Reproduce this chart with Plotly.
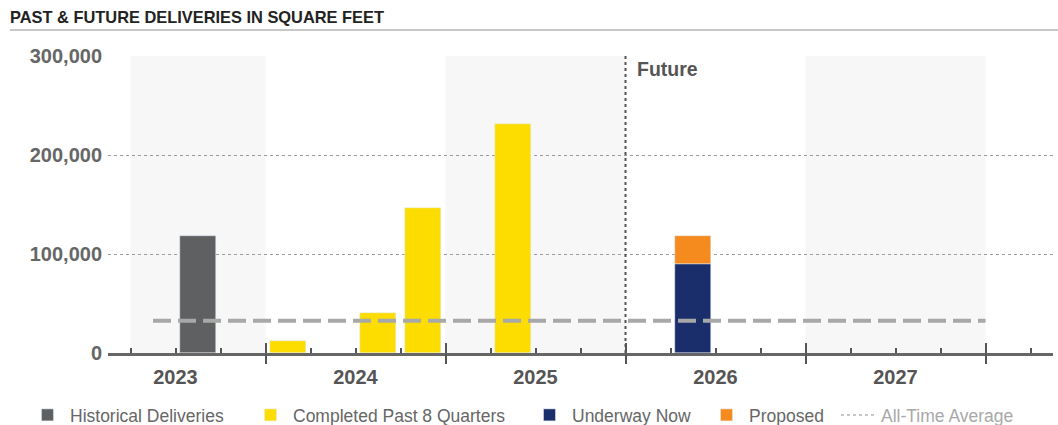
import plotly.graph_objects as go

# ---------------- data ----------------
years = [2023, 2024, 2025, 2026, 2027]
year_labels = ["2023", "2024", "2025", "2026", "2027"]

hist_quarters = [(2023, 3)]
hist_values = [118000]

completed_quarters = [(2024, 1), (2024, 3), (2024, 4), (2025, 2)]
completed_values = [12000, 40000, 146000, 231000]

underway_quarters = [(2026, 2)]
underway_values = [90000]

proposed_quarters = [(2026, 2)]
proposed_values = [28000]

all_time_average = 32500
future_start_year = 2026
y_ticks = [0, 100000, 200000, 300000]

# ---------------- helpers ----------------
W, H = 1058, 425
ML, MR, MT, MB = 108, 5, 56, 72
PW, PH = W - ML - MR, H - MT - MB
first_year = years[0]


def qpos(yq):
    y, q = yq
    return (y - first_year) * 4 + (q - 1) + 0.5


def ystart(y):
    return (y - first_year) * 4


def px2paper_x(px):
    return (px - ML) / PW


def py2paper_y(py):
    return (H - MB - py) / PH


C_HIST = "#5e6062"
C_COMP = "#fddd00"
C_UNDER = "#1a2e6c"
C_PROP = "#f58b1f"
C_AVG = "#a8a8a8"
AXIS = "#666666"
FONT = "Liberation Sans, Arial, sans-serif"

fig = go.Figure()

fig.add_trace(go.Bar(x=[qpos(q) for q in hist_quarters], y=hist_values,
                     name="Historical Deliveries", marker_color=C_HIST,
                     width=0.8, legend="legend"))
fig.add_trace(go.Bar(x=[qpos(q) for q in completed_quarters], y=completed_values,
                     name="Completed Past 8 Quarters", marker_color=C_COMP,
                     width=0.8, legend="legend2"))
fig.add_trace(go.Bar(x=[qpos(q) for q in underway_quarters], y=underway_values,
                     name="Underway Now", marker_color=C_UNDER,
                     width=0.8, legend="legend3"))
fig.add_trace(go.Bar(x=[qpos(q) for q in proposed_quarters], y=proposed_values,
                     name="Proposed", marker_color=C_PROP,
                     width=0.8, legend="legend4"))

# all-time average line (from first visible quarter centre to end of last year)
avg_x = [qpos((first_year, 2)), ystart(years[-1] + 1)]
fig.add_trace(go.Scatter(x=avg_x, y=[all_time_average] * 2, mode="lines",
                         line=dict(color=C_AVG, width=4, dash="18px,7px"),
                         showlegend=False, hoverinfo="skip"))
fig.add_trace(go.Scatter(x=[None], y=[None], mode="lines", name="All-Time Average",
                         line=dict(color="#b5b5b5", width=1.5, dash="dot"),
                         legend="legend5"))

# dummy traces for the tick-only overlay axes
fig.add_trace(go.Scatter(x=[None], y=[None], xaxis="x2", showlegend=False))
fig.add_trace(go.Scatter(x=[None], y=[None], xaxis="x3", showlegend=False))

shapes = []
# alternating year bands
band_years = [years[0], years[2], years[4]]
for by in band_years:
    x0 = ystart(by) + (1 if by == first_year else 0)
    shapes.append(dict(type="rect", xref="x", yref="paper", x0=x0, x1=ystart(by + 1),
                       y0=0, y1=1, fillcolor="#f7f7f7", line_width=0, layer="below"))
# future divider
shapes.append(dict(type="line", xref="x", yref="paper", x0=ystart(future_start_year),
                   x1=ystart(future_start_year), y0=0, y1=1,
                   line=dict(color="#555555", width=2, dash="dot")))
# rule under the title
shapes.append(dict(type="line", xref="paper", yref="paper",
                   x0=px2paper_x(10), x1=px2paper_x(1058),
                   y0=py2paper_y(30), y1=py2paper_y(30),
                   line=dict(color="#c8c8c8", width=2)))

annotations = [dict(text="Future", xref="x", yref="paper",
                    x=ystart(future_start_year) + 0.22, y=py2paper_y(69),
                    xanchor="left", yanchor="middle", showarrow=False,
                    font=dict(family=FONT, size=19.5, color="#555555", weight="bold"))]

xr = [0.5, 21.5]
major_ticks = [ystart(y) for y in years[1:]] + [ystart(years[-1] + 1)]
minor_ticks = [v for v in range(1, 22) if v not in major_ticks]

legend_common = dict(orientation="h", xref="container", yref="container",
                     yanchor="middle", xanchor="left", y=1 - 415 / H,
                     bgcolor="rgba(0,0,0,0)", itemwidth=35,
                     font=dict(family=FONT, size=17.5, color="#666666"))
lx = [25, 248, 527, 704, 836]

fig.update_layout(
    width=W, height=H,
    margin=dict(l=ML, r=MR, t=MT, b=MB),
    paper_bgcolor="white", plot_bgcolor="white",
    barmode="relative",
    bargap=0,
    title=dict(text="PAST & FUTURE DELIVERIES IN SQUARE FEET",
               x=10 / W, xanchor="left", xref="container",
               y=1 - 17 / H, yanchor="middle", yref="container",
               font=dict(family=FONT, size=16.4, color="#222222", weight="bold")),
    xaxis=dict(range=xr, tickvals=[ystart(y) + 2 for y in years], ticktext=year_labels,
               ticks="", showgrid=False, zeroline=False,
               showline=True, linecolor=AXIS, linewidth=3,
               tickfont=dict(family=FONT, size=20, color="#555555", weight="bold"),
               ticklabelstandoff=4, fixedrange=True),
    xaxis2=dict(range=xr, overlaying="x", anchor="y", side="bottom",
                tickvals=major_ticks, ticks="outside", ticklen=10, tickwidth=2,
                tickcolor="#555555", showticklabels=False, showgrid=False,
                zeroline=False, showline=False,
                minor=dict(tickvals=minor_ticks, ticks="inside", ticklen=5,
                           tickwidth=1.5, tickcolor="#555555", showgrid=False)),
    xaxis3=dict(range=xr, overlaying="x", anchor="y", side="bottom",
                tickvals=major_ticks, ticks="inside", ticklen=10, tickwidth=2,
                tickcolor="#555555", showticklabels=False, showgrid=False,
                zeroline=False, showline=False),
    yaxis=dict(range=[0, 300000], tickvals=y_ticks, tickformat=",",
               showgrid=True, gridcolor="#9a9a9a", gridwidth=1, griddash="dot",
               zeroline=False, showline=False, ticks="",
               tickfont=dict(family=FONT, size=20, color="#666666", weight="bold"),
               ticklabelstandoff=5, fixedrange=True),
    shapes=shapes,
    annotations=annotations,
    legend=dict(legend_common, x=lx[0] / W),
    legend2=dict(legend_common, x=lx[1] / W),
    legend3=dict(legend_common, x=lx[2] / W),
    legend4=dict(legend_common, x=lx[3] / W),
    legend5=dict(legend_common, x=lx[4] / W,
                 font=dict(family=FONT, size=17.5, color="#a8a8a8")),
    showlegend=True,
)

fig.write_html("out.html", config={"displayModeBar": False},
               post_script="document.body.style.margin='0';document.body.style.overflow='hidden';")
